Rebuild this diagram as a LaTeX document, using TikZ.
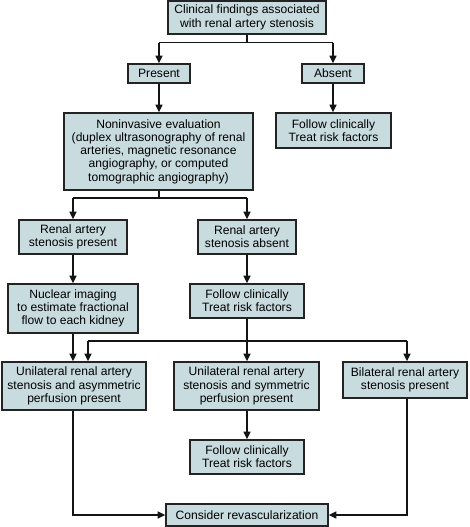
\documentclass[tikz,border=0pt]{standalone}
\usepackage{fontspec}
\setmainfont{Liberation Sans}
\usetikzlibrary{arrows.meta}
\definecolor{boxfill}{RGB}{200,219,223}
\definecolor{boxline}{RGB}{35,35,35}
\tikzset{
  fbox/.style={draw=boxline, line width=1.6pt, fill=boxfill, align=center, inner sep=0pt,
    font=\fontsize{12.1pt}{13.3pt}\selectfont, text=black},
  conn/.style={line width=1.4pt, draw=black!92},
  arr/.style={conn, -{Triangle[length=7.5pt,width=7pt]}}
}
\begin{document}
\begin{tikzpicture}[x=1pt,y=-1pt]
\useasboundingbox (0,0) rectangle (470,527);
\node[fbox, minimum width=158pt, minimum height=33pt] (top) at (247,17.5) {Clinical findings associated\\with renal artery stenosis};
\node[fbox, minimum width=62pt, minimum height=19pt] (present) at (159,73.5) {Present};
\node[fbox, minimum width=62pt, minimum height=19pt] (absent) at (333,73.5) {Absent};
\node[fbox, minimum width=189pt, minimum height=77pt] (noninv) at (158.5,151.5) {Noninvasive evaluation\\(duplex ultrasonography of renal\\arteries, magnetic resonance\\angiography, or computed\\tomographic angiography)};
\node[fbox, minimum width=115pt, minimum height=35pt] (follow1) at (333.5,130.5) {Follow clinically\\Treat risk factors};
\node[fbox, minimum width=108pt, minimum height=34pt] (rasp) at (73,237) {Renal artery\\stenosis present};
\node[fbox, minimum width=98pt, minimum height=34pt] (rasa) at (247,237) {Renal artery\\stenosis absent};
\node[fbox, minimum width=130pt, minimum height=49pt] (nuc) at (73,308.5) {Nuclear imaging\\to estimate fractional\\flow to each kidney};
\node[fbox, minimum width=114pt, minimum height=34pt] (follow2) at (247,301) {Follow clinically\\Treat risk factors};
\node[fbox, minimum width=144pt, minimum height=48pt] (unia) at (74,386) {Unilateral renal artery\\stenosis and asymmetric\\perfusion present};
\node[fbox, minimum width=145pt, minimum height=48pt] (unis) at (246.5,386) {Unilateral renal artery\\stenosis and symmetric\\perfusion present};
\node[fbox, minimum width=124pt, minimum height=36pt] (bil) at (405,380) {Bilateral renal artery\\stenosis present};
\node[fbox, minimum width=114pt, minimum height=34pt] (follow3) at (247,457) {Follow clinically\\Treat risk factors};
\node[fbox, minimum width=162pt, minimum height=22pt] (consider) at (247,515) {Consider revascularization};

\coordinate (t1) at (247,42.7);
\coordinate (tl) at (159,42.7);
\coordinate (tr) at (333,42.7);
\draw[conn] (top.south) -- (t1);
\draw[conn] (tl) -- (tr);
\draw[arr] (tl) -- (present.north);
\draw[arr] (tr) -- (absent.north);
\draw[arr] (present.south) -- (noninv.north -| present.south);
\draw[arr] (absent.south) -- (follow1.north -| absent.south);

\coordinate (n1) at (159,198);
\coordinate (nl) at (73,198);
\coordinate (nr) at (247,198);
\draw[conn] (noninv.south -| n1) -- (n1);
\draw[conn] (nl) -- (nr);
\draw[arr] (nl) -- (rasp.north -| nl);
\draw[arr] (nr) -- (rasa.north -| nr);
\draw[arr] (rasp.south -| nl) -- (nuc.north -| nl);
\draw[arr] (rasa.south) -- (follow2.north);

\draw[arr] (nuc.south -| nl) -- (unia.north -| nl);
\draw[arr] (follow2.south) -- (unis.north -| follow2.south);
\coordinate (hl) at (88,341);
\coordinate (hr) at (407,341);
\draw[conn] (hl) -- (hr);
\draw[arr] (hl) -- (unia.north -| hl);
\draw[arr] (hr) -- (bil.north -| hr);
\draw[arr] (unis.south -| follow2.south) -- (follow3.north);

\draw[arr] (unia.south -| nl) |- (consider.west);
\draw[arr] (bil.south -| hr) |- (consider.east);
\end{tikzpicture}
\end{document}
